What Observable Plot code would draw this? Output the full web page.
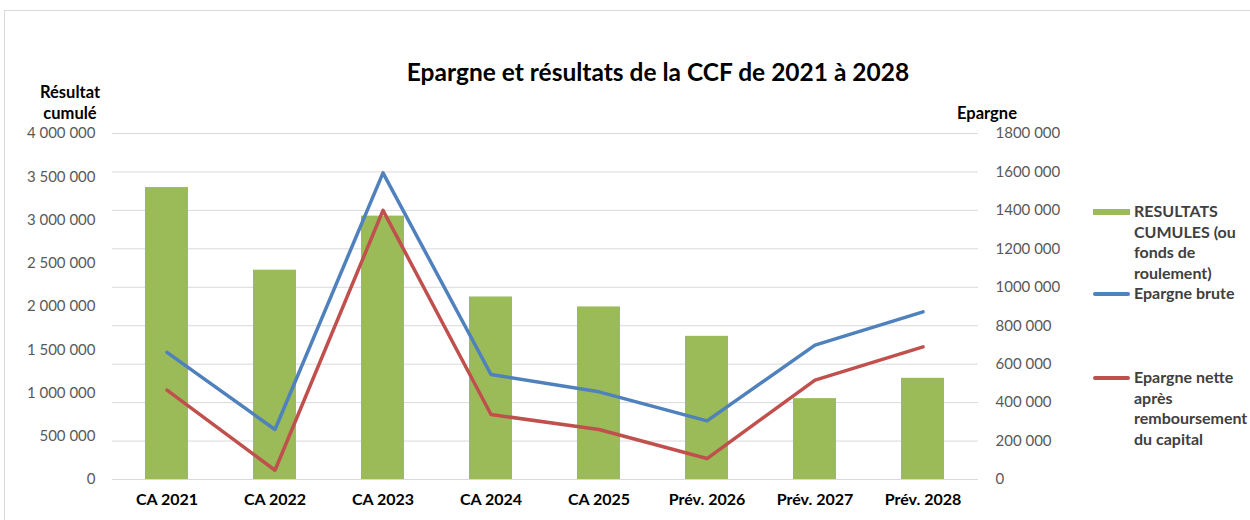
<!DOCTYPE html>
<html><head><meta charset="utf-8">
<script src="https://cdn.jsdelivr.net/npm/d3@7"></script>
<script src="https://cdn.jsdelivr.net/npm/@observablehq/plot@0.6"></script>
<style>
html,body{margin:0;padding:0;background:#fff;overflow:hidden;width:1250px;height:520px;}
#wrap{position:relative;width:1250px;height:520px;font-family:Lato,"Open Sans",sans-serif;}
#chart{position:absolute;left:0;top:0;}
.frame{position:absolute;left:4px;top:10px;width:1270px;height:540px;border:1px solid #d9d9d9;box-sizing:border-box;}
.abs{position:absolute;white-space:nowrap;}
.title{left:0;width:1316px;top:57px;text-align:center;font-weight:bold;font-size:24.5px;color:#000;line-height:30px;}
.ytitle{font-weight:bold;font-size:16.5px;color:#000;line-height:21px;}
.leg{font-weight:bold;font-size:16px;color:#404040;line-height:20.5px;}
.sw{position:absolute;}
</style>
</head><body>
<div id="wrap">
  <div class="frame"></div>
  <div id="chart"></div>
  <div class="abs title">Epargne et résultats de la CCF de 2021 à 2028</div>
  <div class="abs ytitle" style="left:30px;top:82px;text-align:center;width:80px;">Résultat<br>cumulé</div>
  <div class="abs ytitle" style="left:957px;top:103px;">Epargne</div>
  <div class="sw" style="left:1093px;top:209px;width:37px;height:6px;background:#9bbb59;"></div>
  <div class="abs leg" style="left:1134px;top:201px;">RESULTATS<br>CUMULES (ou<br>fonds de<br>roulement)</div>
  <div class="sw" style="left:1093px;top:292px;width:37px;height:4px;background:#4f81bd;border-radius:2px;"></div>
  <div class="abs leg" style="left:1134px;top:283px;">Epargne brute</div>
  <div class="sw" style="left:1093px;top:376px;width:37px;height:4px;background:#c0504d;border-radius:2px;"></div>
  <div class="abs leg" style="left:1134px;top:367px;">Epargne nette<br>après<br>remboursement<br>du capital</div>
</div>
<script>
const categories = ["CA 2021","CA 2022","CA 2023","CA 2024","CA 2025","Prév. 2026","Prév. 2027","Prév. 2028"];
const resultatsCumules = [3375000, 2420000, 3045000, 2110000, 1995000, 1655000, 935000, 1170000];
const epargneBrute = [661000, 260000, 1595000, 546000, 456000, 305000, 699000, 872000];
const epargneNette = [465000, 48000, 1400000, 338000, 260000, 109000, 517000, 690000];
const leftTicks = [0, 500000, 1000000, 1500000, 2000000, 2500000, 3000000, 3500000, 4000000];
const leftTickLabels = ["0","500 000","1 000 000","1 500 000","2 000 000","2 500 000","3 000 000","3 500 000","4 000 000"];
const rightTicks = [0, 200000, 400000, 600000, 800000, 1000000, 1200000, 1400000, 1600000, 1800000];
const rightTickLabels = ["0","200 000","400 000","600 000","800 000","1000 000","1200 000","1400 000","1600 000","1800 000"];

const leftMax = 4000000, rightMax = 1800000;
const k = leftMax / rightMax; // maps right-axis values onto the left scale
const table = categories.map((c, i) => ({cat: c, res: resultatsCumules[i], brute: epargneBrute[i], nette: epargneNette[i]}));
const rightScaled = rightTicks.map(v => v * k);

const chart = Plot.plot({
  width: 1250, height: 520,
  marginLeft: 112, marginRight: 272, marginTop: 133, marginBottom: 41,
  style: {fontFamily: "Lato, 'Open Sans', sans-serif", fontSize: "15px", background: "transparent", overflow: "visible"},
  x: {domain: categories, paddingInner: 0.6, paddingOuter: 0.3, axis: null},
  y: {domain: [0, leftMax], axis: null},
  marks: [
    Plot.gridY(rightScaled, {stroke: "#d9d9d9", strokeOpacity: 1, strokeWidth: 1}),
    Plot.barY(table, {x: "cat", y: "res", fill: "#9bbb59"}),
    Plot.lineY(table, {x: "cat", y: d => d.brute * k, stroke: "#4f81bd", strokeWidth: 3.5, strokeLinecap: "round", strokeLinejoin: "round"}),
    Plot.lineY(table, {x: "cat", y: d => d.nette * k, stroke: "#c0504d", strokeWidth: 3.5, strokeLinecap: "round", strokeLinejoin: "round"}),
    Plot.axisY(leftTicks, {anchor: "left", tickSize: 0, tickPadding: 17, fill: "#595959", fontSize: 15, label: null,
      tickFormat: d => leftTickLabels[leftTicks.indexOf(d)]}),
    Plot.axisY(rightScaled, {anchor: "right", tickSize: 0, tickPadding: 17, fill: "#595959", fontSize: 15, label: null,
      tickFormat: d => rightTickLabels[rightScaled.indexOf(d)]}),
    Plot.axisX({tickSize: 0, tickPadding: 14, fontWeight: "bold", fill: "#000", fontSize: 16, label: null})
  ]
});
document.getElementById("chart").appendChild(chart);
</script>
</body></html>
